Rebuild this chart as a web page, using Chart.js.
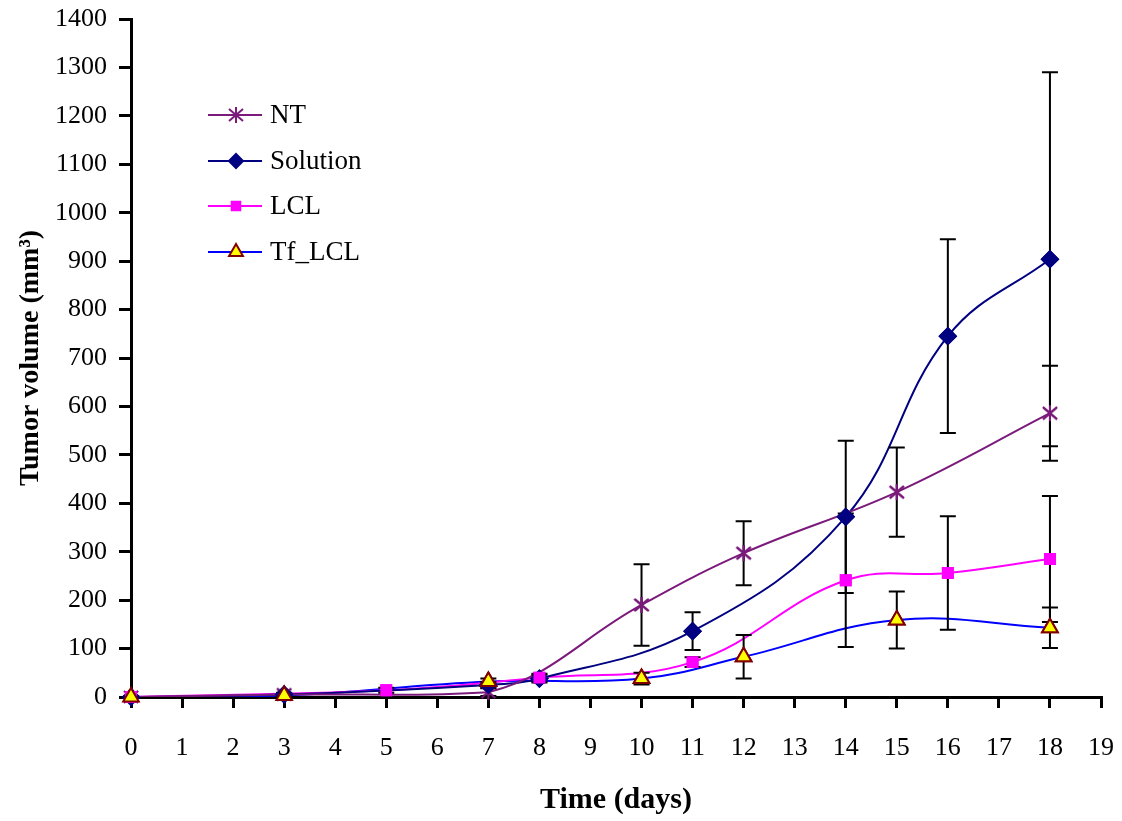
<!DOCTYPE html>
<html>
<head>
<meta charset="utf-8">
<script src="https://cdn.jsdelivr.net/npm/chart.js@4/dist/chart.umd.min.js"></script>
<style>
  html, body { margin: 0; padding: 0; background: #fff; }
  #wrap { width: 1122px; height: 821px; }
</style>
</head>
<body>
<div id="wrap"><canvas id="tumorChart"></canvas></div>
<script>
const xTicks = [0, 1, 2, 3, 4, 5, 6, 7, 8, 9, 10, 11, 12, 13, 14, 15, 16, 17, 18, 19];

const ntDays = [0, 3, 7, 10, 12, 15, 18];
const ntVol = [0, 5, 10, 190, 297, 423, 586];
const ntErr = [2, 4, 8, 84, 66, 92, 98];

const solDays = [0, 3, 7, 8, 11, 14, 16, 18];
const solVol = [0, 5, 25, 38, 136, 372, 745, 904];
const solErr = [1, 3, 6, 8, 39, 157, 200, 386];

const lclDays = [0, 5, 8, 11, 14, 16, 18];
const lclVol = [0, 14, 40, 72, 241, 256, 285];
const lclErr = [1, 5, 8, 10, 138, 117, 130];

const tfDays = [0, 3, 7, 10, 12, 15, 18];
const tfVol = [0, 3, 32, 38, 83, 159, 143];
const tfErr = [1, 3, 6, 12, 45, 59, 42];

const serif = '"Liberation Serif", "Times New Roman", serif';

const toPoints = (days, vals) => days.map((d, i) => ({ x: d, y: vals[i] }));

// asterisk marker like excel's "star": vertical line plus an X
const starMarker = (() => {
  const c = document.createElement('canvas');
  c.width = 20; c.height = 20;
  const g = c.getContext('2d');
  g.strokeStyle = '#7b1a7b';
  g.lineWidth = 2;
  g.beginPath();
  g.moveTo(10, 2); g.lineTo(10, 18);
  g.moveTo(3, 4); g.lineTo(17, 16);
  g.moveTo(17, 4); g.lineTo(3, 16);
  g.stroke();
  return c;
})();

const series = [
  { label: 'NT', days: ntDays, vol: ntVol, err: ntErr, color: '#7b1a7b', style: starMarker, radius: 9, fill: '#7b1a7b', border: '#7b1a7b' },
  { label: 'Solution', days: solDays, vol: solVol, err: solErr, color: '#000080', style: 'rectRot', radius: 8, fill: '#000080', border: '#000080' },
  { label: 'LCL', days: lclDays, vol: lclVol, err: lclErr, color: '#ff00ff', style: 'rect', radius: 7, fill: '#ff00ff', border: '#ff00ff' },
  { label: 'Tf_LCL', days: tfDays, vol: tfVol, err: tfErr, color: '#0000ff', style: 'triangle', radius: 9, fill: '#ffff00', border: '#800000' }
];

const errorBars = {
  id: 'errorBars',
  afterDatasetsDraw(chart) {
    const { ctx, scales: { x, y } } = chart;
    ctx.save();
    ctx.strokeStyle = '#000';
    ctx.lineWidth = 2;
    series.forEach(s => {
      s.days.forEach((d, i) => {
        const px = x.getPixelForValue(d);
        const top = y.getPixelForValue(s.vol[i] + s.err[i]);
        const bot = y.getPixelForValue(Math.max(0, s.vol[i] - s.err[i]));
        ctx.beginPath();
        ctx.moveTo(px, top); ctx.lineTo(px, bot);
        ctx.moveTo(px - 8, top); ctx.lineTo(px + 8, top);
        ctx.moveTo(px - 8, bot); ctx.lineTo(px + 8, bot);
        ctx.stroke();
      });
    });
    ctx.restore();
    // redraw markers on top of the bars
    chart.data.datasets.forEach((ds, i) => {
      chart.getDatasetMeta(i).data.forEach(p => p.draw(ctx, chart.chartArea));
    });
  }
};

const insideLegend = {
  id: 'insideLegend',
  afterDraw(chart) {
    const { ctx } = chart;
    const rows = [115, 161, 206, 252];
    ctx.save();
    series.forEach((s, i) => {
      const yy = rows[i];
      ctx.strokeStyle = s.color;
      ctx.lineWidth = 2;
      ctx.beginPath();
      ctx.moveTo(208, yy); ctx.lineTo(262, yy);
      ctx.stroke();
      ctx.fillStyle = s.fill;
      ctx.strokeStyle = s.border;
      Chart.helpers.drawPoint(ctx, {
        pointStyle: s.style, radius: s.radius - 1, borderWidth: 2, rotation: 0
      }, 236, yy);
      ctx.fillStyle = '#000';
      ctx.font = '27px ' + serif;
      ctx.textBaseline = 'middle';
      ctx.fillText(s.label, 270, yy + 1);
    });
    ctx.restore();
  }
};

new Chart(document.getElementById('tumorChart'), {
  type: 'line',
  data: {
    datasets: series.map(s => ({
      label: s.label,
      data: toPoints(s.days, s.vol),
      borderColor: s.color,
      borderWidth: 2,
      backgroundColor: s.fill,
      pointStyle: s.style,
      pointRadius: s.radius,
      pointBackgroundColor: s.fill,
      pointBorderColor: s.border,
      pointBorderWidth: 2,
      tension: 0.4,
      fill: false
    }))
  },
  options: {
    responsive: true,
    maintainAspectRatio: false,
    animation: false,
    layout: { padding: { top: 19, right: 21, left: 0, bottom: 0 } },
    plugins: {
      legend: { display: false },
      tooltip: { enabled: false }
    },
    scales: {
      x: {
        type: 'linear',
        min: 0,
        max: 19,
        afterBuildTicks: axis => { axis.ticks = xTicks.map(v => ({ value: v })); },
        ticks: { color: '#000', font: { family: serif, size: 26 }, padding: 25, maxRotation: 0 },
        grid: { drawOnChartArea: false, color: '#000', lineWidth: 3, tickLength: 11 },
        border: { color: '#000', width: 3 },
        title: { display: true, text: 'Time (days)', color: '#000', font: { family: serif, size: 30, weight: 'bold' }, padding: { top: 0, bottom: 3 } },
        afterFit: s => { s.height = 124; s.paddingLeft = 0; s.paddingRight = 0; }
      },
      y: {
        min: 0,
        max: 1400,
        ticks: { stepSize: 100, color: '#000', font: { family: serif, size: 26 }, padding: 12, callback: v => String(v) },
        grid: { drawOnChartArea: false, color: '#000', lineWidth: 3, tickLength: 12 },
        border: { color: '#000', width: 3 },
        title: { display: true, text: 'Tumor volume (mm³)', color: '#000', font: { family: serif, size: 28, weight: 'bold' }, padding: { top: 14, bottom: 0 } },
        afterFit: s => { s.width = 131; s.paddingTop = 0; s.paddingBottom = 0; }
      }
    }
  },
  plugins: [errorBars, insideLegend]
});
</script>
</body>
</html>
